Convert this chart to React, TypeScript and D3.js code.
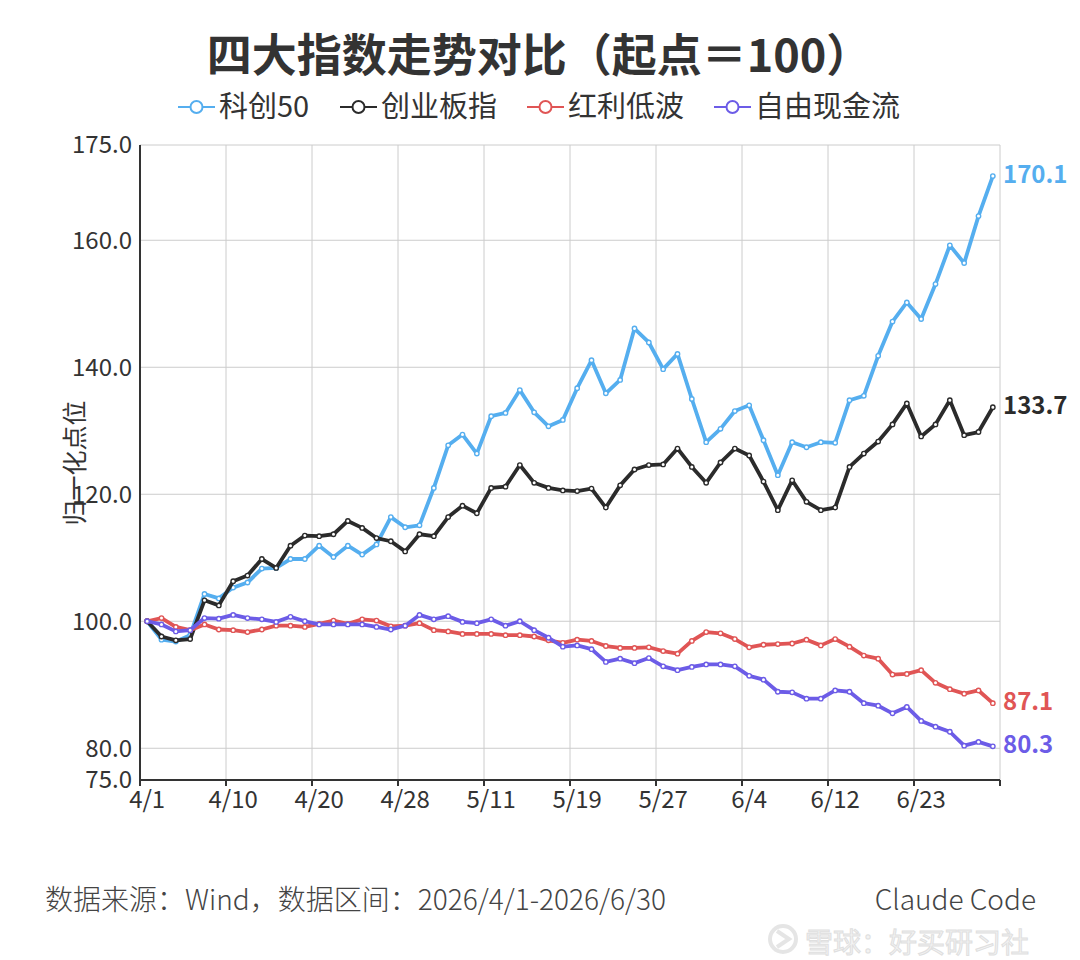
import React from 'react';
import * as d3 from 'd3';

const dates = [
  '4/1', '4/2', '4/3', '4/7', '4/8', '4/9', '4/10', '4/13', '4/14', '4/15',
  '4/16', '4/17', '4/20', '4/21', '4/22', '4/23', '4/24', '4/27', '4/28', '4/29',
  '4/30', '5/6', '5/7', '5/8', '5/11', '5/12', '5/13', '5/14', '5/15', '5/18',
  '5/19', '5/20', '5/21', '5/22', '5/25', '5/26', '5/27', '5/28', '5/29', '6/1',
  '6/2', '6/3', '6/4', '6/5', '6/8', '6/9', '6/10', '6/11', '6/12', '6/15',
  '6/16', '6/17', '6/18', '6/22', '6/23', '6/24', '6/25', '6/26', '6/29', '6/30',
];

const kc50 = [
  100, 97.1, 96.8, 97.8, 104.3, 103.6, 105.3, 106.1, 108.3, 108.4,
  109.8, 109.8, 111.9, 110.1, 111.9, 110.5, 112.1, 116.4, 114.8, 115.1,
  121.0, 127.7, 129.4, 126.4, 132.3, 132.8, 136.4, 132.9, 130.7, 131.7,
  136.7, 141.1, 135.9, 138.0, 146.1, 143.9, 139.7, 142.1, 135.0, 128.2,
  130.3, 133.1, 134.0, 128.5, 123.0, 128.2, 127.4, 128.2, 128.1, 134.8,
  135.5, 141.8, 147.2, 150.2, 147.6, 153.1, 159.2, 156.4, 163.8, 170.1,
];

const cyb = [
  100, 97.6, 97.0, 97.2, 103.3, 102.5, 106.3, 107.2, 109.8, 108.4,
  111.9, 113.5, 113.4, 113.7, 115.8, 114.7, 113.1, 112.6, 111.0, 113.7,
  113.4, 116.4, 118.2, 117.0, 121.0, 121.2, 124.6, 121.8, 121.0, 120.6,
  120.5, 120.9, 117.9, 121.4, 123.9, 124.6, 124.7, 127.2, 124.3, 121.8,
  125.0, 127.2, 126.1, 122.0, 117.5, 122.2, 118.8, 117.5, 117.9, 124.3,
  126.4, 128.3, 131.0, 134.3, 129.1, 131.0, 134.8, 129.3, 129.8, 133.7,
];

const hldb = [
  100, 100.5, 99.1, 98.6, 99.5, 98.7, 98.6, 98.3, 98.7, 99.3,
  99.3, 99.1, 99.6, 100.1, 99.6, 100.3, 100.1, 99.2, 99.3, 99.7,
  98.6, 98.4, 98.0, 98.0, 98.0, 97.8, 97.8, 97.6, 97.0, 96.6,
  97.1, 96.9, 96.1, 95.8, 95.8, 95.9, 95.3, 94.9, 96.9, 98.3,
  98.1, 97.2, 95.9, 96.3, 96.4, 96.5, 97.1, 96.2, 97.2, 96.0,
  94.6, 94.1, 91.6, 91.7, 92.3, 90.3, 89.3, 88.6, 89.1, 87.1,
];

const zyxjl = [
  100, 99.5, 98.4, 98.6, 100.5, 100.4, 101.0, 100.5, 100.3, 99.9,
  100.7, 100.0, 99.5, 99.5, 99.5, 99.5, 99.1, 98.7, 99.3, 101.0,
  100.3, 100.8, 99.9, 99.7, 100.3, 99.3, 100.0, 98.6, 97.4, 96.0,
  96.2, 95.6, 93.6, 94.1, 93.4, 94.2, 92.9, 92.3, 92.8, 93.2,
  93.2, 92.9, 91.4, 90.8, 88.9, 88.8, 87.8, 87.8, 89.1, 88.9,
  87.1, 86.7, 85.5, 86.5, 84.3, 83.4, 82.6, 80.4, 81.0, 80.3,
];

const seriesNames = ['科创50', '创业板指', '红利低波', '自由现金流'];
const seriesColors = ['#55aeef', '#2b2b2b', '#e05555', '#6c5ce7'];
const seriesValues = [kc50, cyb, hldb, zyxjl];
const yTicks = [80, 100, 120, 140, 160];
const labelEvery = 6;

const W = 1080;
const H = 960;
const margin = { top: 145, right: 80, bottom: 180, left: 140 };

const CJK = '"Noto Sans CJK SC", "Noto Sans", sans-serif';

export default function App() {
  const x = d3
    .scaleBand<string>()
    .domain(dates)
    .range([margin.left, W - margin.right])
    .padding(0);
  const bw = x.bandwidth();
  const cx = (d: string) => (x(d) as number) + bw / 2;

  const y = d3.scaleLinear().domain([75, 175]).range([H - margin.bottom, margin.top]);

  const line = d3
    .line<number>()
    .x((_, i) => cx(dates[i]))
    .y(v => y(v));

  const x0 = margin.left;
  const x1 = W - margin.right;
  const yBase = y(75);

  // split lines sit on the left edge of every labelled band, plus the far edge
  const splitX = dates
    .map((d, i) => (i % labelEvery === 0 && i > 0 ? (x(d) as number) : null))
    .filter(v => v !== null) as number[];
  splitX.push(x1);

  const legendX = [178, 340, 527, 714];

  return (
    <svg
      width={W}
      height={H}
      style={{ position: 'absolute', left: 0, top: 0, background: '#fff' }}
    >
      <rect width={W} height={H} fill="#fff" />

      {/* title */}
      <text
        x={539}
        y={72}
        textAnchor="middle"
        fontFamily={CJK}
        fontWeight={700}
        fontSize={45}
        fill="#333"
      >
        四大指数走势对比（起点＝100）
      </text>

      {/* legend */}
      {seriesNames.map((name, i) => (
        <g key={name} transform={`translate(${legendX[i]},107)`}>
          <line x1={0} x2={37} y1={0} y2={0} stroke={seriesColors[i]} strokeWidth={2} />
          <circle cx={18.5} cy={0} r={6} fill="#fff" stroke={seriesColors[i]} strokeWidth={2} />
          <text x={41} y={0} dy="0.36em" fontFamily={CJK} fontSize={29} fill="#333">
            {name}
          </text>
        </g>
      ))}

      {/* grid */}
      {[...yTicks, 175].map(t => (
        <line key={t} x1={x0} x2={x1} y1={y(t)} y2={y(t)} stroke="#cccccc" strokeWidth={1} />
      ))}
      {splitX.map(sx => (
        <line key={sx} x1={sx} x2={sx} y1={y(175)} y2={yBase} stroke="#cccccc" strokeWidth={1} />
      ))}

      {/* y axis */}
      <line x1={x0} x2={x0} y1={y(175)} y2={yBase} stroke="#333" strokeWidth={2} />
      {[75, ...yTicks, 175].map(t => (
        <text
          key={t}
          x={x0 - 8}
          y={y(t)}
          dy="0.35em"
          textAnchor="end"
          fontFamily={CJK}
          fontSize={24}
          fill="#333"
        >
          {t.toFixed(1)}
        </text>
      ))}
      <text
        transform={`translate(75,463) rotate(-90)`}
        textAnchor="middle"
        dy="0.35em"
        fontFamily={CJK}
        fontSize={25}
        fill="#333"
      >
        归一化点位
      </text>

      {/* x axis */}
      <line x1={x0} x2={x1} y1={yBase} y2={yBase} stroke="#333" strokeWidth={2} />
      {[...dates.filter((_, i) => i % labelEvery === 0).map(d => x(d) as number), x1].map(tx => (
        <line key={tx} x1={tx} x2={tx} y1={yBase} y2={yBase + 6} stroke="#333" strokeWidth={2} />
      ))}
      {dates.map((d, i) =>
        i % labelEvery === 0 ? (
          <text
            key={d}
            x={cx(d)}
            y={808}
            textAnchor="middle"
            fontFamily={CJK}
            fontSize={24}
            fill="#333"
          >
            {d}
          </text>
        ) : null
      )}

      {/* series */}
      {seriesValues.map((vals, s) => (
        <g key={seriesNames[s]}>
          <path
            d={line(vals) as string}
            fill="none"
            stroke={seriesColors[s]}
            strokeWidth={3.8}
            strokeLinejoin="round"
          />
          {vals.map((v, i) => (
            <circle
              key={i}
              cx={cx(dates[i])}
              cy={y(v)}
              r={2.2}
              fill="#fff"
              stroke={seriesColors[s]}
              strokeWidth={1.4}
            />
          ))}
          <text
            x={x1 + 3}
            y={y(vals[vals.length - 1]) - 2}
            dy="0.35em"
            fontFamily={CJK}
            fontWeight={700}
            fontSize={24}
            fill={seriesColors[s]}
          >
            {vals[vals.length - 1].toFixed(1)}
          </text>
        </g>
      ))}

      {/* footer */}
      <text x={45} y={910} fontFamily={CJK} fontWeight={300} fontSize={28} fill="#444">
        数据来源：Wind，数据区间：2026/4/1-2026/6/30
      </text>
      <text
        x={1036}
        y={910}
        textAnchor="end"
        fontFamily={CJK}
        fontWeight={300}
        fontSize={28}
        fill="#444"
      >
        Claude Code
      </text>

      {/* watermark */}
      <g opacity={0.9}>
        <circle cx={783} cy={939} r={13} fill="none" stroke="#e3e3e3" strokeWidth={4} />
        <path d="M777,931 L789,939 L777,947" fill="none" stroke="#e3e3e3" strokeWidth={4} />
        <text
          x={805}
          y={953}
          fontFamily={CJK}
          fontSize={28}
          fill="#f2f2f2"
          stroke="#dcdcdc"
          strokeWidth={1}
        >
          雪球：好买研习社
        </text>
      </g>
    </svg>
  );
}
